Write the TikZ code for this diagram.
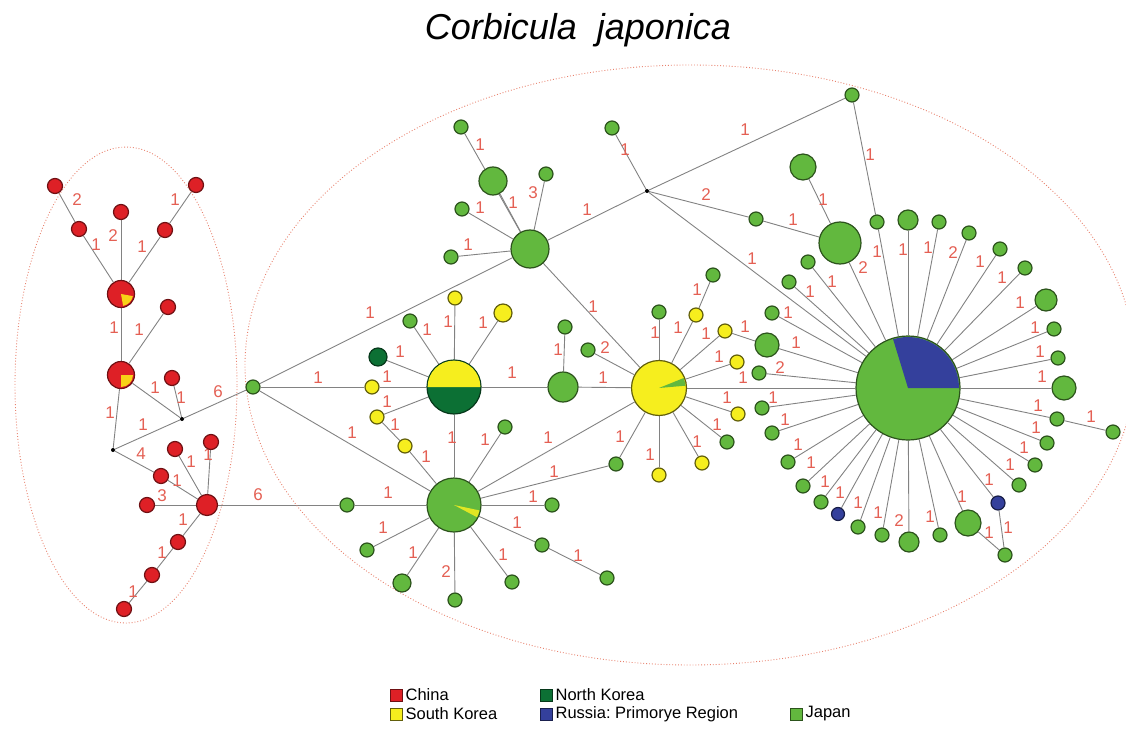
\documentclass[tikz,border=0pt]{standalone}
\usepackage{fontspec}
\setmainfont{Liberation Sans}
\usetikzlibrary{backgrounds,positioning}
\definecolor{jpC}{RGB}{98,184,62}
\definecolor{cnC}{RGB}{222,32,38}
\definecolor{skC}{RGB}{246,238,30}
\definecolor{nkC}{RGB}{12,112,52}
\definecolor{ruC}{RGB}{52,64,156}
\definecolor{lnkC}{RGB}{130,130,130}
\definecolor{lblC}{RGB}{228,96,84}
\definecolor{ringC}{RGB}{232,130,110}
\tikzset{
  hap/.style={circle, inner sep=0pt, line width=1.2pt, minimum size=#1},
  hap/.default=14pt,
  jp/.style={hap=#1, fill=jpC, draw=jpC!45!black}, jp/.default=14pt,
  cn/.style={hap=#1, fill=cnC, draw=cnC!50!black}, cn/.default=15pt,
  sk/.style={hap=#1, fill=skC, draw=skC!40!black}, sk/.default=14pt,
  nk/.style={hap=#1, fill=nkC, draw=nkC!50!black}, nk/.default=14pt,
  med/.style={circle, fill=black, inner sep=0pt, minimum size=4pt},
  lnk/.style={draw=lnkC, line width=0.9pt},
  lbl/.style={text=lblC, font=\fontsize{17}{17}\selectfont, inner sep=0pt},
  ring/.style={draw=ringC, dotted, line width=0.9pt},
  lgd/.style={rectangle, inner sep=0pt, minimum size=12pt, line width=0.8pt},
  lgtxt/.style={font=\fontsize{16.5}{16.5}\selectfont, inner sep=0pt}
}

\begin{document}
\begin{tikzpicture}[x=1pt, y=-1pt]
\useasboundingbox (0,0) rectangle (1126,730);

% title
\node (title) at (578,30) {\fontsize{36}{40}\selectfont\itshape Corbicula\ \ japonica};

% population groups
\draw[ring] (126,385) ellipse [x radius=111pt, y radius=238pt];
\draw[ring] (690,365) ellipse [x radius=445pt, y radius=300pt];

% China
\foreach \nm/\x/\y/\s in {cA/55/186/15pt, cB/79/229/15pt, cC/121/212/15pt,
    cD/165/230/15pt, cE/196/185/15pt, cF/168/307/15pt, cG/172/378/15pt,
    cH/161/476/15pt, cI/175/449/15pt, cJ/211/442/15pt, cK/147/505/15pt,
    cL/178/542/15pt, cM/152/575/15pt, cN/124/609/15pt,
    cBig1/121/294/27pt, cBig2/121/375/27pt, cHub/207/505/21pt}
  \node[cn=\s] (\nm) at (\x,\y) {};

% median vectors
\node[med] (mA) at (182,419) {};
\node[med] (mB) at (113,450) {};
\node[med] (mC) at (647,191) {};

% Japan
\foreach \nm/\x/\y/\s in {j0/253/387/14pt, jG1/410/321/14pt, jG2/347/505/14pt,
    jG3/367/550/14pt, jG4/402/583/18pt, jG5/455/600/14pt, jG6/512/582/14pt,
    jG7/542/545/14pt, jG8/607/578/14pt, jG9/552/505/14pt, jG10/616/464/14pt,
    jG11/505/427/14pt, jMid/563/387/30pt, jG12/565/327/14pt, jG13/588/350/14pt,
    jG14/659/312/14pt, jG15/713/275/14pt, jG16/727/442/14pt,
    jB1/461/127/14pt, jB2/493/181/28pt, jB3/546/174/14pt, jB4/462/209/14pt,
    jB5/451/257/14pt, jC1/612/128/14pt, jTop/852/95/14pt, jC2/756/219/14pt,
    jC3/803/167/26pt, jX1/1113/432/14pt, jX2/1005/555/14pt,
    hB/530/249/38pt, hC/840/243/42pt, hG/454/505/54pt, hJ/908/388/104pt}
  \node[jp=\s] (\nm) at (\x,\y) {};

% South Korea / North Korea
\foreach \nm/\x/\y/\s in {kY1/455/298/14pt, kY2/503/313/18pt, kY3/372/387/14pt,
    kY4/377/417/14pt, kY5/405/446/14pt, kY6/696/315/14pt, kY7/725/331/14pt,
    kY8/737/362/14pt, kY9/738/414/14pt, kY10/702/463/14pt, kY11/659/475/14pt,
    hY/659/388/55pt}
  \node[sk=\s] (\nm) at (\x,\y) {};
\node[nk=18pt] (kN1) at (378,357) {};
\node[nk=54pt] (hNK) at (454,387) {};

% pie shares
\fill[skC!75!orange] (cBig1.center) -- ++(-80:12pt) arc[start angle=-80, end angle=-10, radius=12pt] -- cycle;
\fill[skC!75!orange] (cBig2.center) -- ++(-90:12pt) arc[start angle=-90, end angle=0, radius=12pt] -- cycle;
\fill[skC] ([shift={(180:26.4pt)}]hNK.center) arc[start angle=180, end angle=0, radius=26.4pt] -- cycle;
\fill[skC!85!jpC] (hG.center) -- ++(-28:26pt) arc[start angle=-28, end angle=-12, radius=26pt] -- cycle;
\fill[jpC] (hY.center) -- ++(5:26.5pt) arc[start angle=5, end angle=22, radius=26.5pt] -- cycle;
\fill[ruC] (hJ.center) -- ++(0:51pt) arc[start angle=0, end angle=107, radius=51pt] -- cycle;

% spokes of the main Japanese haplotype
\def\spokes{jS1/jpC/877/222/14pt/1/877/252, jS2/jpC/908/220/20pt/1/903/250,
  jS3/jpC/939/222/14pt/1/928/248, jS4/jpC/969/233/14pt/2/953/253,
  jS5/jpC/1000/249/14pt/1/980/262, jS6/jpC/1025/268/14pt/1/1002/278,
  jS7/jpC/1046/300/22pt/1/1020/303, jS8/jpC/1054/329/14pt/1/1035/328,
  jS9/jpC/1058/358/14pt/1/1040/352, jS10/jpC/1064/388/24pt/1/1042/377,
  jS11/jpC/1057/419/14pt/1/1038/406, jS12/jpC/1047/443/14pt/1/1036/428,
  jS13/jpC/1035/465/14pt/1/1024/448, jS14/jpC/1019/485/14pt/1/1010/465,
  rS15/ruC/998/503/14pt/1/989/480, jS16/jpC/968/523/26pt/1/962/497,
  jS17/jpC/940/535/14pt/1/930/517, jS18/jpC/909/542/20pt/2/899/521,
  jS19/jpC/882/535/14pt/1/878/513, jS20/jpC/858/527/14pt/1/858/503,
  rS21/ruC/838/514/13pt/1/840/493, jS22/jpC/821/502/14pt/1/825/482,
  jS23/jpC/803/486/14pt/1/811/463, jS24/jpC/788/462/14pt/1/798/445,
  jS25/jpC/772/433/14pt/1/785/420, jS26/jpC/762/408/14pt/1/773/398,
  jS27/jpC/759/373/14pt/2/780/368, jS28/jpC/767/345/24pt/1/796/343,
  jS29/jpC/772/313/14pt/1/788/313, jS30/jpC/789/282/14pt/1/810/292,
  jS31/jpC/808/262/14pt/1/832/282}
\foreach \nm/\fc/\x/\y/\s/\t/\lx/\ly in \spokes
  \node[hap=\s, fill=\fc, draw=\fc!45!black] (\nm) at (\x,\y) {};

\begin{pgfonlayer}{background}
\foreach \nm/\fc/\x/\y/\s/\t/\lx/\ly in \spokes
  \draw[lnk] (\nm) -- (hJ) node[lbl] at (\lx,\ly) {\t};
\foreach \a/\b/\t/\lx/\ly in {cA/cB/2/77/200, cB/cBig1/1/96/245,
    cC/cBig1/2/113/236, cD/cBig1/1/142/247, cE/cD/1/175/200,
    cBig1/cBig2/1/114/328, cF/cBig2/1/139/330, cBig2/mA/1/155/388,
    cG/mA/1/181/398, cBig2/mB/1/110/413, mB/mA/1/143/425, mA/j0/6/218/392,
    mB/cH/4/141/454, cH/cHub/1/177/481, cI/cHub/1/191/462, cJ/cHub/1/208/455,
    cK/cHub/3/162/496, cHub/cL/1/183/520, cL/cM/1/162/553, cM/cN/1/133/592,
    cHub/jG2/6/258/495, j0/hB/1/370/313, j0/kY3/1/318/378, kY3/hNK/1/387/377,
    j0/hG/1/352/433, kN1/hNK/1/400/352, jG1/hNK/1/427/330, kY1/hNK/1/448/322,
    kY2/hNK/1/483/323, kY4/hNK/1/387/402, kY4/kY5/1/395/425, kY5/hG/1/426/457,
    hNK/hG/1/452/438, hNK/jMid/1/512/373, jMid/hY/1/603/378,
    jG12/jMid/1/558/350, jG13/hY/2/605/348, jG2/hG/1/388/493,
    jG3/hG/1/383/528, jG4/hG/1/413/553, jG5/hG/2/446/572, jG6/hG/1/503/555,
    jG7/hG/1/517/523, jG7/jG8/1/578/556, jG9/hG/1/533/497, jG10/hG/1/554/472,
    jG10/hY/1/620/437, hG/hY/1/548/438, jG11/hG/1/485/440,
    jB1/hB/1/480/145, jB2/hB/1/513/203, jB3/hB/3/533/193, jB4/hB/1/480/208,
    jB5/hB/1/468/245, hB/mC/1/587/210, hB/hY/1/593/307, mC/jC1/1/625/150,
    mC/jTop/1/745/130, mC/jC2/2/706/195, jC2/hC/1/793/220, jC3/hC/1/823/200,
    hC/hJ/2/863/268, mC/hJ/1/752/259, jTop/jS1/1/870/155,
    jG14/hY/1/655/333, kY6/hY/1/678/328, kY6/jG15/1/697/290,
    kY7/hY/1/706/334, kY7/jS28/1/745/327, kY8/hY/1/719/357,
    kY9/hY/1/727/398, jG16/hY/1/717/425, kY10/hY/1/697/442,
    kY11/hY/1/650/455, hY/hJ/1/743/378, jS11/jX1/1/1091/417,
    rS15/jX2/1/1008/528, jS16/jX2/1/989/533}
  \draw[lnk] (\a) -- (\b) node[lbl] at (\lx,\ly) {\t};
\end{pgfonlayer}

% legend
\node[lgd, fill=cnC, draw=cnC!50!black] (lgCN) at (396,695) {};
\node[lgtxt, right=3pt of lgCN] (lgCNt) {China};
\node[lgd, fill=skC, draw=skC!40!black] (lgSK) at (396,714) {};
\node[lgtxt, right=3pt of lgSK] (lgSKt) {South Korea};
\node[lgd, fill=nkC, draw=nkC!50!black] (lgNK) at (546,695) {};
\node[lgtxt, right=3pt of lgNK] (lgNKt) {North Korea};
\node[lgd, fill=ruC, draw=ruC!50!black] (lgRU) at (546,714) {};
\node[lgtxt, right=3pt of lgRU] (lgRUt) {Russia:\ Primorye Region};
\node[lgd, fill=jpC, draw=jpC!45!black] (lgJP) at (796,714) {};
\node[lgtxt, right=3pt of lgJP] (lgJPt) {Japan};
\end{tikzpicture}
\end{document}
